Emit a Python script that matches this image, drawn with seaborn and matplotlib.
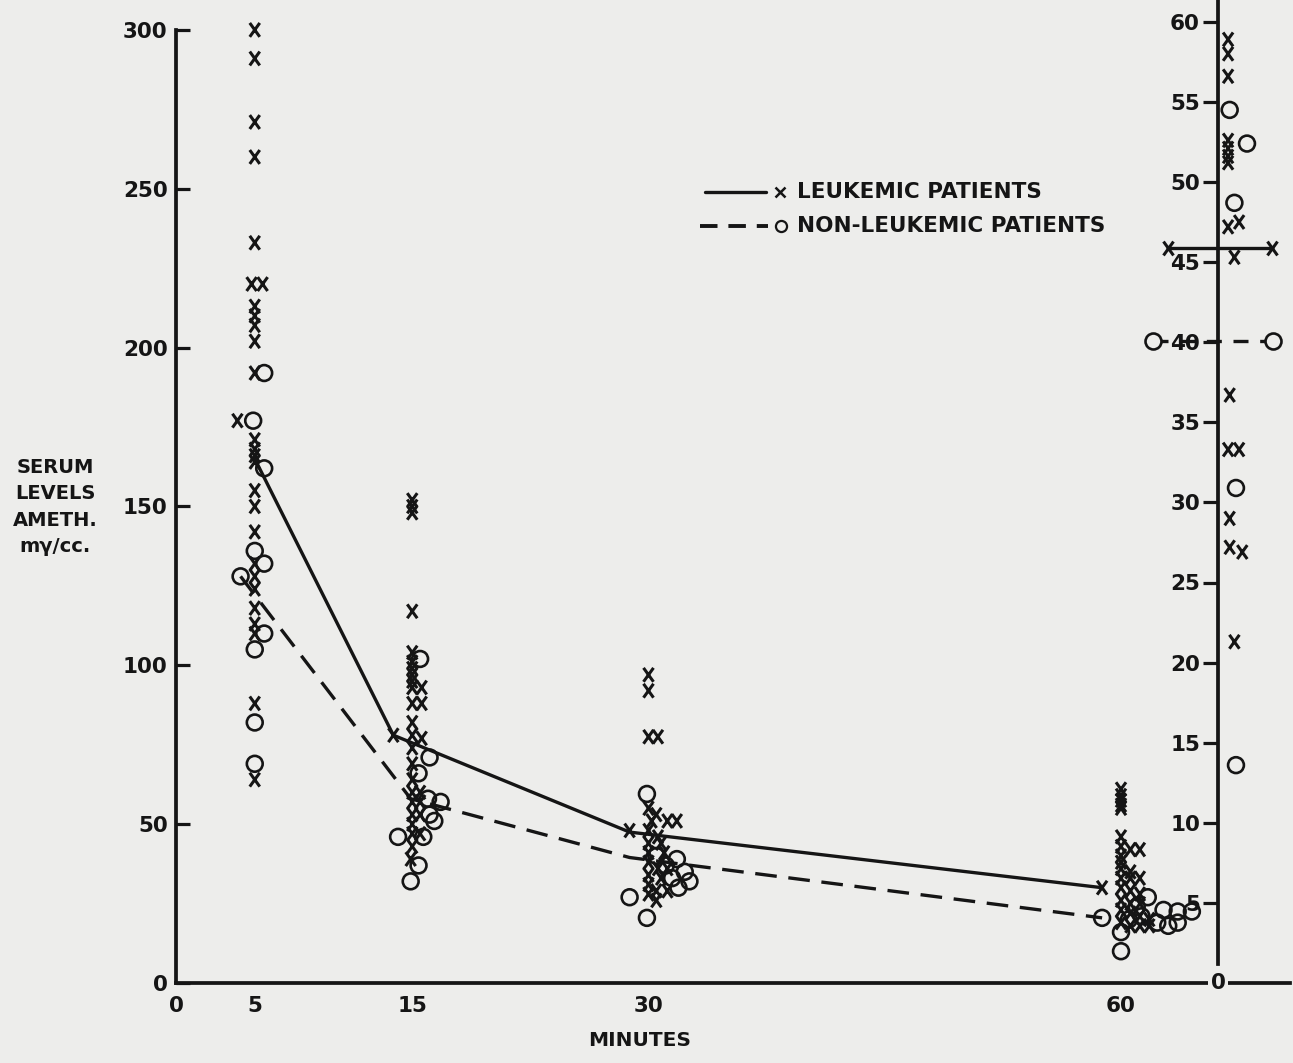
import matplotlib.pyplot as plt
from matplotlib.lines import Line2D
from matplotlib.path import Path
import seaborn as sns

# serum levels; x is minutes as drawn (columns spread a little)
leuk_min = [5, 5, 5, 5, 5, 4.8, 5.5, 5, 5, 5, 5, 5, 3.9, 5, 5, 5, 5, 5, 5, 5, 5, 5, 5, 5, 5, 5, 5, 5,
            15, 15, 15, 15, 15, 15, 15, 15, 15, 15, 15.6, 15, 15.6, 15, 15, 15.6, 13.8, 15, 15, 15, 15,
            15.5, 15, 15.5, 15, 15.5, 15, 15, 15.5, 15, 14.9,
            30, 30, 30, 30.6, 28.8, 30, 30.5, 30.2, 31.2, 31.8, 30, 30.6, 30, 30.8, 30, 31, 30, 30.6,
            31.2, 30, 30.8, 30, 30.5, 31.2, 30, 30.5,
            60, 60, 60, 60, 60, 60, 60, 60.6, 61.2, 60, 60, 60, 60.6, 60, 60.6, 61.2, 58.8, 60, 60.6,
            61.2, 60, 60.6, 61.2, 60, 60.6, 61.2, 61.8, 60, 60.6, 61.2, 61.8]
leuk_val = [300, 291, 271, 260, 233, 220, 220, 213, 210, 207, 202, 192, 177, 171, 168, 166, 164, 155,
            150, 142, 132, 128, 124, 118, 113, 110, 88, 64,
            152, 150, 148, 117, 104, 101, 99, 97, 95, 93, 93, 88, 88, 82, 78, 77, 78, 74, 69, 64, 60,
            60, 57, 57, 53, 53, 50, 47, 47, 43, 39,
            97, 92, 77.5, 77.5, 48, 55, 53, 51, 51, 51, 48, 46, 44, 44, 41, 41, 38, 36, 36, 34, 33, 31,
            29, 29, 28, 26,
            61, 59, 57.5, 56, 55, 46, 43, 42, 42, 40, 38, 36, 35, 33, 33, 33, 30, 30, 29, 28, 26, 25,
            25, 23, 22, 21, 20, 19, 18, 18, 18]

nonleuk_min = [5.6, 4.9, 5.6, 5, 5.6, 4.1, 5.6, 5, 5, 5,
               15.5, 16.1, 15.4, 16.8, 16.0, 16.4, 16.1, 14.1, 15.7, 15.4, 14.9,
               29.9, 30.5, 31.1, 31.8, 32.3, 31.5, 32.6, 31.9, 28.8, 29.9,
               61.7, 62.7, 63.6, 64.5, 61.0, 62.3, 63.0, 63.6, 61.3, 58.8, 60.5, 60, 60]
nonleuk_val = [192, 177, 162, 136, 132, 128, 110, 105, 82, 69,
               102, 71, 66, 57, 58, 51, 53, 46, 46, 37, 32,
               59.5, 40, 37, 39, 35, 33, 32, 30, 27, 20.5,
               27, 23, 22.5, 22.5, 24, 19, 18, 19, 21, 20.5, 20, 16, 10]

# group averages joined by lines
leuk_mean_min = [5.0, 13.8, 28.8, 58.8]
leuk_mean_val = [165, 78, 47.5, 30]
nonleuk_mean_min = [4.1, 14.9, 28.8, 58.8]
nonleuk_mean_val = [128, 58, 39.5, 20.5]

# late samples on the right-hand scale (0-60)
late_leuk_pos = [66.8, 66.8, 66.8, 66.8, 66.8, 66.8, 66.8, 66.8, 67.5, 67.2, 66.9, 66.8, 67.5,
                 66.9, 66.9, 67.7, 67.2]
late_leuk_val = [58.9, 58.0, 56.6, 52.6, 52.1, 51.6, 51.2, 47.2, 47.5, 45.3, 36.7, 33.3, 33.3,
                 29.0, 27.2, 26.9, 21.3]
late_nonleuk_pos = [66.9, 68.0, 67.2, 67.3, 67.3]
late_nonleuk_val = [54.5, 52.4, 48.7, 30.9, 13.6]
late_leuk_mean_pos = [63.0, 69.6]
late_leuk_mean_val = [45.9, 45.9]
late_nonleuk_mean_pos = [62.0, 69.65]
late_nonleuk_mean_val = [40.1, 40.1]

x_ticks = [0, 5, 15, 30, 60]
left_ticks = [0, 50, 100, 150, 200, 250, 300]
right_ticks = [5, 10, 15, 20, 25, 30, 35, 40, 45, 50, 55, 60]

sns.set_theme(style='white')
plt.rcParams['font.family'] = ['DejaVu Sans']
plt.rcParams['font.weight'] = 'bold'

bg = '#ededeb'
ink = '#151515'
W, H = 1293, 1063

xmark = Path([(-0.36, -0.5), (0.36, 0.5), (-0.36, 0.5), (0.36, -0.5)],
             [Path.MOVETO, Path.LINETO, Path.MOVETO, Path.LINETO])

fig = plt.figure(figsize=(W / 100, H / 100), dpi=100, facecolor=bg)
ax = fig.add_axes([176 / W, 80 / H, (W - 176) / W, 983 / H])
ax.set_facecolor('none')
ax.set_xlim(0, (W - 176) / 15.75)
ax.set_ylim(0, 983 / 3.177)

ax2 = ax.twinx()
ax2.set_ylim(0, 983 / 16.02)

# points
sns.scatterplot(x=leuk_min, y=leuk_val, marker=xmark, s=100, facecolor='none',
                edgecolor=ink, linewidth=2.2, ax=ax, zorder=3)
sns.scatterplot(x=nonleuk_min, y=nonleuk_val, marker='o', s=130, facecolor='none',
                edgecolor=ink, linewidth=1.9, ax=ax, zorder=3)
sns.lineplot(x=leuk_mean_min, y=leuk_mean_val, color=ink, lw=2.4, sort=False,
             estimator=None, ax=ax)
sns.lineplot(x=nonleuk_mean_min, y=nonleuk_mean_val, color=ink, lw=2.4, sort=False,
             estimator=None, linestyle=(0, (6.5, 3.5)), ax=ax)

sns.scatterplot(x=late_leuk_pos, y=late_leuk_val, marker=xmark, s=100, facecolor='none',
                edgecolor=ink, linewidth=2.2, ax=ax2, zorder=3)
sns.scatterplot(x=late_nonleuk_pos, y=late_nonleuk_val, marker='o', s=130, facecolor='none',
                edgecolor=ink, linewidth=1.9, ax=ax2, zorder=3)
sns.lineplot(x=late_leuk_mean_pos, y=late_leuk_mean_val, color=ink, lw=2.4, ax=ax2,
             marker=xmark, markersize=10, mew=2.2, mfc='none', mec=ink)
sns.lineplot(x=late_nonleuk_mean_pos, y=late_nonleuk_mean_val, color=ink, lw=2.4, ax=ax2,
             linestyle=(0, (4.5, 3.5)), marker='o', markersize=11.5, mew=1.9,
             mfc=bg, mec=ink)

# main axes
for s in ['top', 'right']:
    ax.spines[s].set_visible(False)
for s in ['left', 'bottom']:
    ax.spines[s].set_color(ink)
    ax.spines[s].set_linewidth(2.7)
ax.spines['left'].set_bounds(0, 300)
ax.spines['bottom'].set_bounds(0, 70.7)
ax.set_xticks(x_ticks)
ax.set_yticks(left_ticks)
ax.tick_params(axis='both', direction='in', length=10, width=2.3, color=ink,
               labelsize=15.5, labelcolor=ink)
ax.tick_params(axis='x', pad=9)
ax.tick_params(axis='y', pad=6)
ax.tick_params(axis='y', which='both', right=False)

# right-hand scale
for s in ['top', 'right', 'bottom']:
    ax2.spines[s].set_visible(False)
ax2.spines['left'].set_visible(True)
ax2.spines['left'].set_position(('data', 66.16))
ax2.spines['left'].set_bounds(1.2, 983 / 16.02)
ax2.spines['left'].set_color(ink)
ax2.spines['left'].set_linewidth(2.7)
ax2.yaxis.set_ticks_position('left')
ax2.set_yticks(right_ticks)
ax2.tick_params(axis='y', direction='out', length=11, width=2.3, color=ink,
                labelsize=15.5, labelcolor=ink, pad=2)
ax2.text(66.16, 0, '0', ha='center', va='center', fontsize=15.5, color=ink,
         bbox=dict(fc=bg, ec='none', pad=1.5), zorder=5)
ax.grid(False)
ax2.grid(False)

# legend drawn by hand: line then marker then label
y1, y2 = 1 - 192 / H, 1 - 226 / H
fig.add_artist(Line2D([705 / W, 766 / W], [y1, y1], color=ink, lw=2.4))
fig.add_artist(Line2D([780 / W], [y1], marker='x', ms=7, mew=1.8, color=ink, ls='none'))
fig.add_artist(Line2D([700 / W, 768 / W], [y2, y2], color=ink, lw=2.8,
                      ls=(0, (4.5, 2.8))))
fig.add_artist(Line2D([781 / W], [y2], marker='o', ms=8, mew=1.6, mfc='none', mec=ink,
                      ls='none'))
fig.text(797 / W, y1, 'LEUKEMIC PATIENTS', fontsize=15.5, color=ink, va='center')
fig.text(797 / W, y2, 'NON-LEUKEMIC PATIENTS', fontsize=15.5, color=ink, va='center')

fig.text(55 / W, 1 - 507 / H, 'SERUM\nLEVELS\nAMETH.\nmγ/cc.', ha='center', va='center',
         fontsize=14, linespacing=1.5, color=ink)
fig.text(640 / W, 1 - 1040 / H, 'MINUTES', ha='center', va='center', fontsize=14.5, color=ink)

fig.savefig('out.png', dpi=100, facecolor=bg)
